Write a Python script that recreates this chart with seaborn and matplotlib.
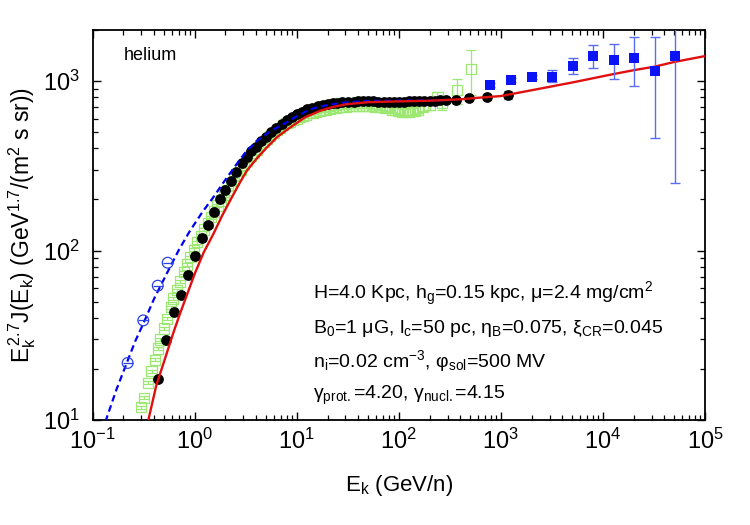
import numpy as np
import pandas as pd
import matplotlib
matplotlib.use("Agg")
import matplotlib.pyplot as plt
import seaborn as sns
from matplotlib.ticker import LogLocator, NullFormatter

# ---------------- data ----------------
# model curves
red_E = [0.335, 0.351, 0.42, 0.531, 0.62, 0.718, 0.85, 1.0, 1.22, 1.52, 1.85, 2.22, 2.7, 3.24, 4.1,
         5.08, 6.5, 8.59, 12.0, 16.9, 22.0, 30.0, 50.0, 100.0, 200.0, 400.0, 626.0, 1000.0,
         2000.0, 5000.0, 12800.0, 20300.0, 32000.0, 50000.0, 100000.0]
red_J = [9.0, 10.0, 16.0, 24.7, 33.0, 42.5, 56.0, 73.0, 97.0, 125.0, 160.0, 197.0, 245.0, 296.0, 352.0,
         405.0, 470.0, 531.0, 610.0, 667.0, 700.0, 728.0, 750.0, 758.0, 765.0, 780.0, 798.0, 815.0,
         882.0, 980.0, 1100.0, 1160.0, 1215.0, 1295.0, 1403.0]

blue_E = [0.125, 0.135, 0.17, 0.215, 0.26, 0.313, 0.40, 0.531, 0.70, 0.90, 1.2, 1.52, 2.0, 2.58,
          3.2, 4.06, 5.5, 7.4, 10.0, 13.5, 20.0, 30.0, 50.0, 100.0, 200.0, 300.0]
blue_J = [8.5, 10.0, 15.0, 21.6, 29.0, 37.0, 52.0, 73.0, 101.0, 131.0, 170.0, 206.0, 262.0, 324.0,
          385.0, 443.0, 505.0, 556.0, 620.0, 682.0, 722.0, 748.0, 762.0, 766.0, 768.0, 772.0]

# blue open circles
circ_E = [0.22, 0.313, 0.434, 0.543]
circ_J = [21.7, 38.7, 62.0, 84.7]

# black filled circles
blk_E = [0.436, 0.527, 0.627, 0.734, 0.859, 1.01, 1.18, 1.35, 1.55, 1.77, 1.98, 2.27, 2.54, 2.89,
         3.24, 3.59, 4.0, 4.5, 5.0, 5.6, 6.3, 7.1, 8.0, 9.0, 10.0, 11.2, 12.6, 14.0, 16.0, 18.0,
         20.0, 22.4, 25.0, 28.0, 32.0, 36.0, 40.0, 45.0, 50.0, 56.0, 63.0, 71.0, 80.0, 90.0, 100.0,
         112.0, 126.0, 141.0, 158.0, 178.0, 200.0, 224.0, 251.0, 289.0, 365.0, 490.0, 729.0, 1170.0]
blk_J = [17.4, 29.6, 43.1, 54.8, 71.3, 93.4, 117.8, 141.7, 168.0, 200.0, 227.0, 258.0, 289.0, 327.0,
         354.0, 384.0, 410.0, 440.0, 470.0, 500.0, 530.0, 560.0, 590.0, 615.0, 640.0, 660.0, 680.0,
         695.0, 710.0, 720.0, 730.0, 738.0, 745.0, 750.0, 753.0, 755.0, 757.0, 758.0, 758.0, 757.0,
         756.0, 755.0, 755.0, 754.0, 755.0, 756.0, 757.0, 758.0, 760.0, 762.0, 764.0, 766.0, 768.0,
         772.0, 768.0, 798.0, 805.0, 828.0]
blk_err = [0.0] * 52 + [10.0, 12.0, 20.0, 25.0, 30.0, 45.0]

# light green open squares
grn_E = [0.296, 0.318, 0.351, 0.378, 0.405, 0.434, 0.457, 0.497, 0.535, 0.582, 0.617, 0.667, 0.718,
         0.78, 0.841, 0.906, 0.977, 1.06, 1.15, 1.24, 1.34, 1.44, 1.55, 1.67, 1.80, 1.94, 2.09, 2.25,
         2.42, 2.61, 2.81, 3.03, 3.26, 3.51, 3.78, 4.07, 4.39, 4.73, 5.09, 5.48, 5.91, 6.36, 6.85,
         7.38, 7.95, 8.56, 9.22, 9.94, 10.7, 11.5, 12.4, 13.4, 14.4, 15.5, 16.7, 18.0, 19.4, 20.9,
         22.5, 24.2, 26.1, 28.1, 30.3, 32.6, 35.1, 37.8, 40.7, 43.9, 47.3, 50.9, 54.8, 59.1, 63.6,
         68.5, 73.8, 79.5, 85.6, 92.2, 99.4, 107.0, 115.0, 124.0, 134.0, 144.0, 155.0, 172.0, 200.0,
         239.0, 265.0, 371.0, 508.0]
grn_J = [11.9, 13.5, 16.6, 19.4, 22.7, 26.4, 29.9, 34.6, 39.6, 46.4, 52.0, 58.2, 65.7, 74.5, 82.7,
         91.4, 101.0, 112.0, 122.0, 133.0, 145.0, 157.0, 170.0, 184.0, 197.0, 212.0, 228.0, 244.0,
         262.0, 280.0, 300.0, 320.0, 338.0, 360.0, 378.0, 395.0, 418.0, 438.0, 455.0, 475.0, 495.0,
         512.0, 530.0, 548.0, 563.0, 576.0, 588.0, 600.0, 612.0, 624.0, 635.0, 645.0, 652.0, 660.0,
         668.0, 675.0, 680.0, 686.0, 692.0, 696.0, 700.0, 704.0, 707.0, 710.0, 712.0, 714.0, 716.0,
         718.0, 716.0, 714.0, 712.0, 708.0, 704.0, 700.0, 696.0, 690.0, 680.0, 672.0, 664.0, 658.0,
         654.0, 658.0, 664.0, 670.0, 680.0, 700.0, 720.0, 798.0, 745.0, 881.0, 1177.0]
grn_relerr = [0.02] * 56 + [0.03] * 14 + [0.04] * 10 + [0.05] * 6 + [0.06, 0.08, 0.10, 0.17, 0.30]

# blue filled squares
sq_E = [785.0, 1253.0, 2000.0, 3160.0, 5060.0, 7950.0, 12850.0, 20300.0, 32100.0, 50900.0]
sq_J = [947.0, 1014.0, 1057.0, 1060.0, 1231.0, 1403.0, 1337.0, 1372.0, 1146.0, 1410.0]
sq_lo = [925.0, 990.0, 1030.0, 987.0, 1094.0, 1191.0, 1027.0, 931.0, 464.0, 250.0]
sq_hi = [970.0, 1040.0, 1085.0, 1156.0, 1358.0, 1622.0, 1644.0, 1824.0, 1824.0, 3000.0]

xticks_vals = [1e-1, 1e0, 1e1, 1e2, 1e3, 1e4, 1e5]
yticks_vals = [1e1, 1e2, 1e3]

param_lines = [
    r"H=4.0 Kpc, h$_\mathregular{g}$=0.15 kpc, μ=2.4 mg/cm$^\mathregular{2}$",
    r"B$_\mathregular{0}$=1 μG, l$_\mathregular{c}$=50 pc, η$_\mathregular{B}$=0.075, ξ$_\mathregular{CR}$=0.045",
    r"n$_\mathregular{i}$=0.02 cm$^\mathregular{-3}$, φ$_\mathregular{sol}$=500 MV",
    r"γ$_\mathregular{prot.}$=4.20, γ$_\mathregular{nucl.}$=4.15",
]

# ---------------- style ----------------
sns.set_theme(style="ticks")
plt.rcParams["font.family"] = ["Liberation Sans", "DejaVu Sans"]
plt.rcParams["mathtext.fontset"] = "custom"
plt.rcParams["mathtext.rm"] = "Liberation Sans"
plt.rcParams["mathtext.it"] = "Liberation Sans:italic"
plt.rcParams["mathtext.bf"] = "Liberation Sans:bold"
plt.rcParams["mathtext.sf"] = "Liberation Sans"
plt.rcParams["text.color"] = "black"
plt.rcParams["axes.labelcolor"] = "black"
plt.rcParams["xtick.color"] = "black"
plt.rcParams["ytick.color"] = "black"

fig = plt.figure(figsize=(7.5, 5.25), dpi=100)
ax = fig.add_axes([0.1236, 0.2, 0.8164, 0.7429])
ax.set_xscale("log")
ax.set_yscale("log")

GREEN = "#9ce873"
BLUE = "#0000f0"
RED = "#e01010"

df_grn = pd.DataFrame({"E": grn_E, "J": grn_J})
gerr = np.array(grn_J) * np.array(grn_relerr)
ax.errorbar(grn_E, grn_J, yerr=gerr, fmt="none", ecolor=GREEN, elinewidth=0.9,
            capsize=3.5, capthick=0.9, zorder=2)
sns.scatterplot(data=df_grn, x="E", y="J", marker="s", s=55, facecolor="none",
                edgecolor=GREEN, linewidth=0.9, ax=ax, zorder=3)

df_blk = pd.DataFrame({"E": blk_E, "J": blk_J})
ax.errorbar(blk_E, blk_J, yerr=blk_err, fmt="none", ecolor="#333333", elinewidth=0.9,
            capsize=3, capthick=0.9, zorder=3.5)
sns.scatterplot(data=df_blk, x="E", y="J", marker="o", s=60, color="black",
                edgecolor="black", linewidth=0, ax=ax, zorder=4)

df_red = pd.DataFrame({"E": red_E, "J": red_J})
sns.lineplot(data=df_red, x="E", y="J", sort=False, estimator=None, color=RED,
             linewidth=1.7, ax=ax, zorder=6)
df_blue = pd.DataFrame({"E": blue_E, "J": blue_J})
sns.lineplot(data=df_blue, x="E", y="J", sort=False, estimator=None, color=BLUE,
             linewidth=1.6, dashes=False, ax=ax, zorder=5)
ax.lines[-1].set_dashes([3.0, 1.8])

df_circ = pd.DataFrame({"E": circ_E, "J": circ_J})
sns.scatterplot(data=df_circ, x="E", y="J", marker="o", s=60, facecolor="none",
                edgecolor="#2a40e8", linewidth=0.9, ax=ax, zorder=6)
sns.scatterplot(data=df_circ, x="E", y="J", marker="_", s=55, color="#2a40e8",
                linewidth=0.9, ax=ax, zorder=6)

df_sq = pd.DataFrame({"E": sq_E, "J": sq_J})
ax.errorbar(sq_E, sq_J, yerr=[np.array(sq_J) - np.array(sq_lo), np.array(sq_hi) - np.array(sq_J)],
            fmt="none", ecolor="#5a6cf0", elinewidth=1.0, capsize=3.5, capthick=1.0, zorder=7)
sns.scatterplot(data=df_sq, x="E", y="J", marker="s", s=60, color="#0a14f5",
                edgecolor="#0a14f5", linewidth=0, ax=ax, zorder=8)

ax.set_xlim(1e-1, 1e5)
ax.set_ylim(10, 2000)
ax.set_xticks(xticks_vals)
ax.set_yticks(yticks_vals)
ax.xaxis.set_minor_locator(LogLocator(base=10, subs=np.arange(2, 10), numticks=20))
ax.yaxis.set_minor_locator(LogLocator(base=10, subs=np.arange(2, 10), numticks=20))
ax.xaxis.set_minor_formatter(NullFormatter())
ax.yaxis.set_minor_formatter(NullFormatter())

for s in ax.spines.values():
    s.set_linewidth(1.3)
    s.set_color("black")
ax.tick_params(which="both", direction="in", top=True, right=True, colors="black")
ax.tick_params(which="major", length=6, width=1.0, labelsize=17)
ax.tick_params(which="minor", length=3.5, width=0.9)
ax.tick_params(axis="x", which="major", pad=6)
ax.tick_params(axis="y", which="major", pad=9)

ax.set_xlabel(r"E$_\mathregular{k}$ (GeV/n)", fontsize=16, labelpad=14)
ax.set_ylabel(r"E$_\mathregular{k}^{\,\mathregular{2.7}}$J(E$_\mathregular{k}$) (GeV$^\mathregular{1.7}$/(m$^\mathregular{2}$ s sr))",
              fontsize=16.5, labelpad=4)

ax.text(0.05, 0.935, "helium", transform=ax.transAxes, fontsize=13, va="center", ha="left")
ys = [0.31, 0.223, 0.136, 0.054]
for t, y in zip(param_lines, ys):
    ax.text(0.36, y, t, transform=ax.transAxes, fontsize=14, va="baseline", ha="left")

leg = ax.get_legend()
if leg is not None:
    leg.remove()

fig.savefig("out.png", dpi=100)
